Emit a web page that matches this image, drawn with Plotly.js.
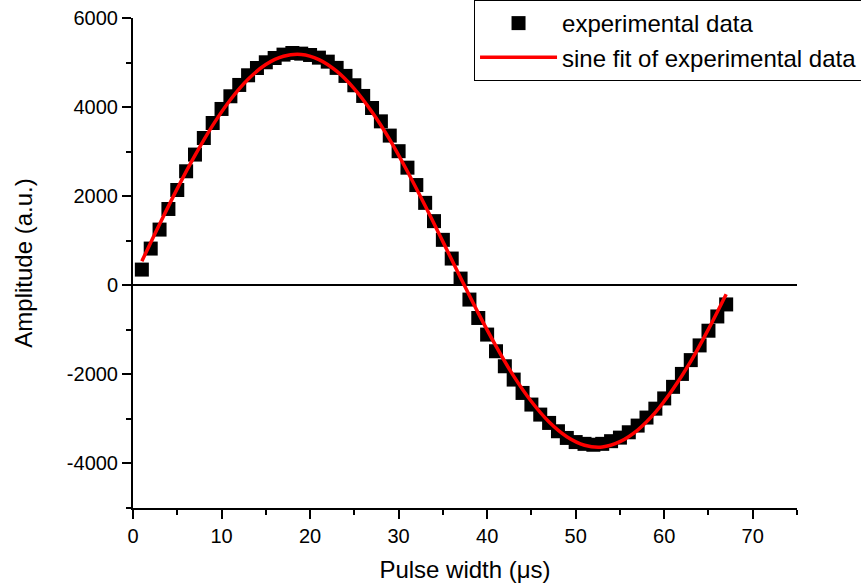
<!DOCTYPE html>
<html>
<head>
<meta charset="utf-8">
<script src="https://cdn.plot.ly/plotly-3.0.1.min.js"></script>
<style>html,body{margin:0;padding:0;background:#fff;}#chart{width:861px;height:588px;}</style>
</head>
<body>
<div id="chart"></div>
<script>
// Pulse width (µs) of each measurement
var pulseWidth = [1,2,3,4,5,6,7,8,9,10,11,12,13,14,15,16,17,18,19,20,21,22,23,24,25,26,27,28,29,30,31,32,33,34,35,36,37,38,39,40,41,42,43,44,45,46,47,48,49,50,51,52,53,54,55,56,57,58,59,60,61,62,63,64,65,66,67];
// Measured amplitude (a.u.)
var amplitude = [352,824,1250,1713,2139,2559,2934,3306,3643,3958,4243,4497,4714,4877,5006,5102,5178,5215,
                 5200,5170,5110,5020,4880,4700,4490,4250,3980,3680,3360,3010,2640,2250,1850,1440,1020,600,150,
                 -321,-734,-1107,-1481,-1818,-2117,-2417,-2678,-2903,-3090,-3277,-3427,-3520,-3560,-3580,-3560,
                 -3500,-3420,-3300,-3150,-2970,-2770,-2540,-2280,-1990,-1680,-1350,-1020,-700,-430];
// Sine fit curve
var fitX = [1,3,5,7,9,11,13,15,17,19,21,23,25,27,29,31,33,35,37,39,41,43,45,47,49,51,53,55,57,59,61,63,65,67];
var fitY = [540,1370,2170,2915,3590,4165,4625,4955,5140,5180,5065,4805,4410,3890,3270,2555,1785,980,170,
            -625,-1365,-2040,-2610,-3070,-3400,-3590,-3630,-3510,-3250,-2855,-2330,-1710,-985,-200];
// Tick labels
var xTickVals = [0,10,20,30,40,50,60,70];
var xTickText = ['0','10','20','30','40','50','60','70'];
var yTickVals = [-4000,-2000,0,2000,4000,6000];
var yTickText = ['-4000','-2000','0','2000','4000','6000'];

var FONT = 'Arial, "Liberation Sans", sans-serif';

var traces = [
  {
    x: pulseWidth, y: amplitude, type: 'scatter', mode: 'markers',
    name: 'experimental data',
    marker: {symbol: 'square', size: 14, color: '#000000', line: {width: 0}}
  },
  {
    x: fitX, y: fitY, type: 'scatter', mode: 'lines',
    name: 'sine fit of experimental data',
    line: {color: '#ff0000', width: 3.5, shape: 'spline'}
  }
];

var axisCommon = {
  showgrid: false,
  showline: true, linecolor: '#000', linewidth: 2,
  ticks: 'outside', ticklen: 9, tickwidth: 2, tickcolor: '#000',
  tickfont: {family: FONT, size: 20, color: '#000'},
  tickmode: 'array',
  mirror: false
};

var layout = {
  width: 861, height: 588,
  paper_bgcolor: '#fff', plot_bgcolor: '#fff',
  margin: {l: 133, r: 64, t: 18, b: 80, autoexpand: false},
  showlegend: true,
  legend: {
    x: 0.5136, y: 1.0367, xanchor: 'left', yanchor: 'top',
    bordercolor: '#000', borderwidth: 1, bgcolor: '#fff',
    font: {family: FONT, size: 24, color: '#000'},
    itemwidth: 77, tracegroupgap: 0
  },
  xaxis: Object.assign({}, axisCommon, {
    range: [0, 75], tickvals: xTickVals, ticktext: xTickText,
    zeroline: false,
    minor: {tickmode: 'linear', tick0: 0, dtick: 5, ticklen: 5, tickwidth: 2, tickcolor: '#000', ticks: 'outside', showgrid: false},
    title: {text: 'Pulse width (μs)', font: {family: FONT, size: 24, color: '#000'}, standoff: 15}
  }),
  yaxis: Object.assign({}, axisCommon, {
    range: [-5000, 6000], tickvals: yTickVals, ticktext: yTickText,
    zeroline: true, zerolinecolor: '#000', zerolinewidth: 2,
    minor: {tickmode: 'linear', tick0: 0, dtick: 1000, ticklen: 5, tickwidth: 2, tickcolor: '#000', ticks: 'outside', showgrid: false},
    title: {text: 'Amplitude (a.u.)', font: {family: FONT, size: 24, color: '#000'}, standoff: 27}
  })
};

Plotly.newPlot('chart', traces, layout, {staticPlot: true, displayModeBar: false});
</script>
</body>
</html>
